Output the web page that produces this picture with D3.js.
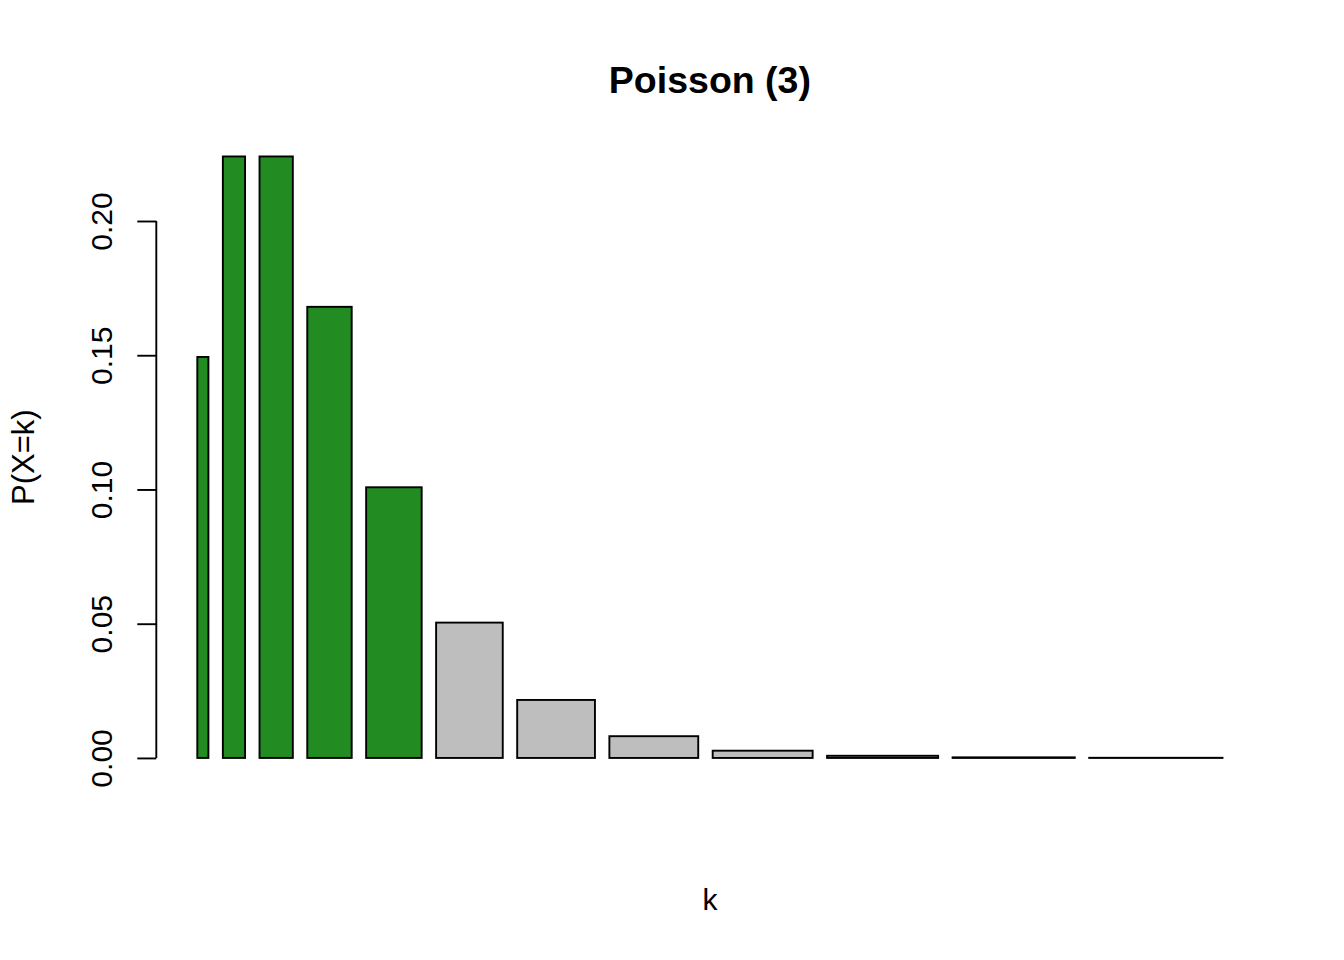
<!DOCTYPE html>
<html>
<head>
<meta charset="utf-8">
<script src="https://cdn.jsdelivr.net/npm/d3@7"></script>
<style>
  html, body { margin: 0; padding: 0; background: #ffffff; }
  svg { display: block; }
  text { font-family: "Liberation Sans", Arial, sans-serif; fill: #000; }
</style>
</head>
<body>
<svg id="chart" width="1344" height="960"></svg>
<script>
// ---- data ----
const categories = ["1","2","3","4","5","6","7","8","9","10","11","12"];
const probabilities = [0.14936, 0.22404, 0.22404, 0.16803, 0.10082, 0.05041, 0.02160, 0.00810, 0.00270, 0.00081, 0.00022, 0.000055];
const barWidths = [1,2,3,4,5,6,7,8,9,10,11,12];
const barColors = ["#228B22","#228B22","#228B22","#228B22","#228B22","#BEBEBE","#BEBEBE","#BEBEBE","#BEBEBE","#BEBEBE","#BEBEBE","#BEBEBE"];
const yTicks = [0.00, 0.05, 0.10, 0.15, 0.20];
const titleText = "Poisson (3)";
const xLabel = "k";
const yLabel = "P(X=k)";

// ---- layout (R barplot style) ----
const svg = d3.select("#chart");
const plotLeft = 156.3, plotRight = 1263.5, plotTop = 132.4, plotBottom = 782;

const space = 0.2 * d3.mean(barWidths);
let pos = 0;
const bars = categories.map((c, i) => {
  const left = pos + space;
  const right = left + barWidths[i];
  pos = right;
  return { k: c, p: probabilities[i], left, right, color: barColors[i] };
});
const xmin = d3.min(bars, d => d.left), xmax = d3.max(bars, d => d.right);
const xext = 0.04 * (xmax - xmin);
const x = d3.scaleLinear().domain([xmin - xext, xmax + xext]).range([plotLeft, plotRight]);

const ymax = d3.max(probabilities);
const yext = 0.04 * ymax;
const y = d3.scaleLinear().domain([-yext, ymax + yext]).range([plotBottom, plotTop]);

// bars
svg.append("g").selectAll("rect").data(bars).join("rect")
  .attr("x", d => x(d.left))
  .attr("width", d => x(d.right) - x(d.left))
  .attr("y", d => y(d.p))
  .attr("height", d => y(0) - y(d.p))
  .attr("fill", d => d.color)
  .attr("stroke", "#000")
  .attr("stroke-width", 1.9);

// y axis
const yAxis = d3.axisLeft(y).tickValues(yTicks).tickFormat(d3.format(".2f")).tickSize(19).tickSizeOuter(0);
const gy = svg.append("g").attr("transform", `translate(${plotLeft},0)`).call(yAxis);
gy.select(".domain").attr("stroke", "#000").attr("stroke-width", 1.9)
  .attr("d", `M0,${y(yTicks[0])}V${y(yTicks[yTicks.length-1])}`);
gy.selectAll(".tick line").attr("stroke", "#000").attr("stroke-width", 1.9);
gy.selectAll(".tick text")
  .attr("x", null).attr("dy", null)
  .attr("transform", "translate(-44,0) rotate(-90)")
  .attr("text-anchor", "middle")
  .attr("font-size", 30)
  .attr("font-family", "Liberation Sans, Arial, sans-serif")
  .attr("fill", "#000");

// title
svg.append("text")
  .attr("x", (plotLeft + plotRight) / 2)
  .attr("y", 93)
  .attr("text-anchor", "middle")
  .attr("font-size", 37.5)
  .attr("font-weight", "bold")
  .text(titleText);

// x label
svg.append("text")
  .attr("x", (plotLeft + plotRight) / 2)
  .attr("y", 910)
  .attr("text-anchor", "middle")
  .attr("font-size", 30)
  .text(xLabel);

// y label
svg.append("text")
  .attr("transform", `translate(34,${(plotTop + plotBottom) / 2}) rotate(-90)`)
  .attr("text-anchor", "middle")
  .attr("font-size", 31)
  .text(yLabel);
</script>
</body>
</html>
